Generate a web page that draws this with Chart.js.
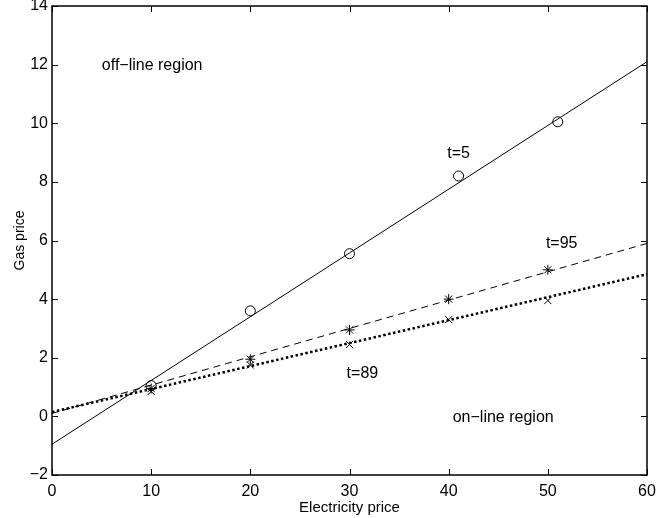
<!DOCTYPE html>
<html>
<head>
<meta charset="utf-8">
<script src="https://cdn.jsdelivr.net/npm/chart.js@4"></script>
<style>
  html, body { margin: 0; padding: 0; background: #fff; }
  #wrap { width: 668px; height: 518px; }
</style>
</head>
<body>
<div id="wrap"><canvas id="c" width="668" height="518"></canvas></div>
<script>
// sample points
const pointX = [10, 20, 30, 40, 50];
const circleX = [10, 20, 30, 41, 51];
const circleY = [1.05, 3.6, 5.55, 8.2, 10.05];   // t=5
const starY   = [0.95, 1.95, 2.95, 4.0, 5.0];    // t=95
const crossY  = [0.85, 1.75, 2.45, 3.3, 3.95];   // t=89

// fitted lines (end points)
const fitX = [0, 60];
const fitT5  = [-0.95, 12.1];
const fitT95 = [0.1, 5.9];
const fitT89 = [0.15, 4.85];

const xTicks = [0, 10, 20, 30, 40, 50, 60];
const yTicks = [-2, 0, 2, 4, 6, 8, 10, 12, 14];

// text labels in the plot
const notes = [
  { text: "off\u2212line region", x: 10.1, y: 11.95 },
  { text: "t=5", x: 41.0, y: 8.95 },
  { text: "t=95", x: 51.4, y: 5.9 },
  { text: "t=89", x: 31.3, y: 1.45 },
  { text: "on\u2212line region", x: 45.5, y: -0.05 }
];

const FONT = "'Liberation Sans', Arial, sans-serif";

function pts(xs, ys) {
  return xs.map((x, i) => ({ x: x, y: ys[i] }));
}

// box, inward ticks and text notes
const boxPlugin = {
  id: "boxPlugin",
  afterDraw(chart) {
    const ctx = chart.ctx;
    const a = chart.chartArea;
    const xs = chart.scales.x, ys = chart.scales.y;
    ctx.save();
    ctx.strokeStyle = "#000";
    ctx.lineWidth = 1;
    ctx.beginPath();
    xTicks.forEach(v => {
      const px = Math.round(xs.getPixelForValue(v)) + 0.5;
      ctx.moveTo(px, a.bottom); ctx.lineTo(px, a.bottom - 6);
      ctx.moveTo(px, a.top); ctx.lineTo(px, a.top + 6);
    });
    yTicks.forEach(v => {
      const py = Math.round(ys.getPixelForValue(v)) + 0.5;
      ctx.moveTo(a.left, py); ctx.lineTo(a.left + 6, py);
      ctx.moveTo(a.right, py); ctx.lineTo(a.right - 6, py);
    });
    ctx.stroke();
    ctx.lineWidth = 1.5;
    ctx.strokeRect(a.left, a.top, a.right - a.left, a.bottom - a.top);

    ctx.fillStyle = "#000";
    ctx.font = "16px " + FONT;
    ctx.textAlign = "center";
    ctx.textBaseline = "middle";
    notes.forEach(n => {
      ctx.fillText(n.text, xs.getPixelForValue(n.x), ys.getPixelForValue(n.y));
    });
    ctx.restore();
  }
};

document.addEventListener("DOMContentLoaded", () => {
  const ctx = document.getElementById("c").getContext("2d");
  new Chart(ctx, {
    type: "scatter",
    data: {
      datasets: [
        {
          label: "t=5 fit",
          data: pts(fitX, fitT5),
          showLine: true, borderColor: "#000", borderWidth: 1,
          pointRadius: 0
        },
        {
          label: "t=95 fit",
          data: pts(fitX, fitT95),
          showLine: true, borderColor: "#000", borderWidth: 1,
          borderDash: [7, 5], pointRadius: 0
        },
        {
          label: "t=89 fit",
          data: pts(fitX, fitT89),
          showLine: true, borderColor: "#000", borderWidth: 2.5,
          borderDash: [2.5, 2.5], pointRadius: 0
        },
        {
          label: "t=5",
          data: pts(circleX, circleY),
          pointStyle: "circle", pointRadius: 5,
          borderColor: "#000", borderWidth: 1, backgroundColor: "rgba(0,0,0,0)"
        },
        {
          label: "t=95",
          data: pts(pointX, starY),
          pointStyle: "star", pointRadius: 5,
          borderColor: "#000", borderWidth: 1
        },
        {
          label: "t=89",
          data: pts(pointX, crossY),
          pointStyle: "crossRot", pointRadius: 5,
          borderColor: "#000", borderWidth: 1
        }
      ]
    },
    options: {
      responsive: false,
      animation: false,
      layout: { padding: { top: 6, right: 21, left: 0, bottom: 0 } },
      plugins: {
        legend: { display: false },
        tooltip: { enabled: false }
      },
      scales: {
        x: {
          type: "linear", min: 0, max: 60,
          afterBuildTicks: s => { s.ticks = xTicks.map(v => ({ value: v })); },
          afterFit: s => { s.height = 43; s.paddingLeft = 0; s.paddingRight = 0; },
          grid: { display: false, drawTicks: false },
          border: { display: false },
          ticks: { color: "#000", font: { family: FONT, size: 16 }, padding: 7, maxRotation: 0 },
          title: { display: true, text: "Electricity price", color: "#000",
                   font: { family: FONT, size: 15 }, padding: { top: 0, bottom: 1 } }
        },
        y: {
          type: "linear", min: -2, max: 14,
          afterBuildTicks: s => { s.ticks = yTicks.map(v => ({ value: v })); },
          afterFit: s => { s.width = 52; s.paddingTop = 0; s.paddingBottom = 0; },
          grid: { display: false, drawTicks: false },
          border: { display: false },
          ticks: {
            color: "#000", font: { family: FONT, size: 16 }, padding: 4,
            callback: v => v < 0 ? "\u2212" + Math.abs(v) : String(v)
          },
          title: { display: true, text: "Gas price", color: "#000",
                   font: { family: FONT, size: 14 }, padding: { top: 12, bottom: 0 } }
        }
      }
    },
    plugins: [boxPlugin]
  });
});
</script>
</body>
</html>
